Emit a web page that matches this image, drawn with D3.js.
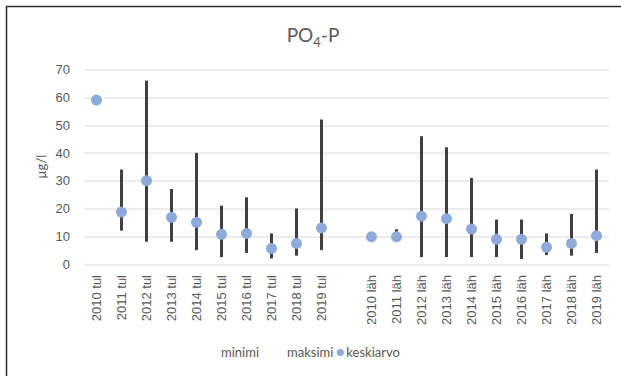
<!DOCTYPE html>
<html>
<head>
<meta charset="utf-8">
<script src="https://cdn.jsdelivr.net/npm/d3@7"></script>
<style>
  body { margin: 0; background: #fff; }
  svg { display: block; font-family: Lato, "Open Sans", sans-serif; }
  .gridline { stroke: #d9d9d9; stroke-width: 1; }
  .hilo { stroke: #404040; stroke-width: 3; }
  .lbl { fill: #595959; font-size: 13px; }
</style>
</head>
<body>
<div id="chart"></div>
<script>
// categories (empty slot separates the two seasons)
var categories = ["2010 tul","2011 tul","2012 tul","2013 tul","2014 tul","2015 tul","2016 tul","2017 tul","2018 tul","2019 tul",
                  "",
                  "2010 läh","2011 läh","2012 läh","2013 läh","2014 läh","2015 läh","2016 läh","2017 läh","2018 läh","2019 läh"];
var minimi    = [59, 12, 8, 8, 5, 2.5, 4, 2, 3, 5,   null, 10, 10, 2.5, 2.5, 2.5, 2.5, 1.8, 3.2, 3, 4];
var maksimi   = [59, 34, 66, 27, 40, 21, 24, 11, 20, 52, null, 10, 12.5, 46, 42, 31, 16, 16, 11, 18, 34];
var keskiarvo = [59, 18.7, 30, 16.8, 15, 10.7, 11, 5.6, 7.4, 13, null, 9.8, 9.8, 17.2, 16.3, 12.6, 8.9, 8.9, 6, 7.4, 10.2];
var yTicks = [0, 10, 20, 30, 40, 50, 60, 70];

var width = 621, height = 376;
var margin = {top: 69.5, left: 84, right: 12, bottom: 112};
var w = width - margin.left - margin.right;
var h = height - margin.top - margin.bottom;

var svg = d3.select("#chart").append("svg").attr("width", width).attr("height", height);

// chart frame
svg.append("path")
  .attr("d", "M6.5," + (height + 2) + "V6.5H" + (width + 2))
  .attr("fill", "none").attr("stroke", "#2b2b2b").attr("stroke-width", 1.5);

var x = d3.scaleBand().domain(d3.range(categories.length)).range([0, w]);
var y = d3.scaleLinear().domain([0, 70]).range([h, 0]);

var g = svg.append("g").attr("transform", "translate(" + margin.left + "," + margin.top + ")");

// grid lines
g.selectAll(".gridline").data(yTicks).enter().append("line")
  .attr("class", "gridline")
  .attr("x1", 0).attr("x2", w)
  .attr("y1", function(d) { return Math.round(y(d)) + 0.5; })
  .attr("y2", function(d) { return Math.round(y(d)) + 0.5; });

// y axis labels
var yAxis = d3.axisLeft(y).tickValues(yTicks).tickSize(0).tickPadding(14);
var ya = g.append("g").call(yAxis);
ya.select(".domain").remove();
ya.selectAll("text").attr("class", "lbl").attr("fill", null).style("font-size", "13px").style("font-family", null);

// x axis labels (rotated)
var xAxis = d3.axisBottom(x).tickSize(0).tickPadding(0).tickFormat(function(i) { return categories[i]; });
var xa = g.append("g").attr("transform", "translate(0," + (h + 11) + ")").call(xAxis);
xa.select(".domain").remove();
xa.selectAll("text").attr("class", "lbl").attr("fill", null).style("font-size", "13px").style("font-family", null)
  .attr("transform", "rotate(-90)")
  .attr("x", 0).attr("y", 0).attr("dx", 0).attr("dy", "0.35em")
  .attr("text-anchor", "end");

var cx = function(i) { return x(i) + x.bandwidth() / 2; };

// high-low lines
var idx = d3.range(categories.length).filter(function(i) { return minimi[i] != null && maksimi[i] != null; });
g.selectAll(".hilo").data(idx).enter().append("line")
  .attr("class", "hilo")
  .attr("x1", cx).attr("x2", cx)
  .attr("y1", function(i) { return y(minimi[i]); })
  .attr("y2", function(i) { return y(maksimi[i]); });

// mean markers
var midx = d3.range(categories.length).filter(function(i) { return keskiarvo[i] != null; });
g.selectAll(".dot").data(midx).enter().append("circle")
  .attr("class", "dot")
  .attr("cx", cx)
  .attr("cy", function(i) { return y(keskiarvo[i]); })
  .attr("r", 5.5)
  .attr("fill", "#8eaadb");

// y axis title
svg.append("text").attr("class", "lbl")
  .attr("transform", "translate(46," + (margin.top + h / 2) + ") rotate(-90)")
  .attr("text-anchor", "middle")
  .text("µg/l");

// title
var title = svg.append("text")
  .attr("x", 313).attr("y", 42)
  .attr("text-anchor", "middle")
  .attr("fill", "#595959")
  .style("font-size", "19px");
title.append("tspan").text("PO");
title.append("tspan").attr("dy", 5).style("font-size", "13px").text("4");
title.append("tspan").attr("dy", -5).text("-P");

// legend
var legend = svg.append("g").attr("transform", "translate(0,357)");
legend.append("text").attr("class", "lbl").attr("x", 221).text("minimi");
var mk = legend.append("text").attr("class", "lbl").attr("x", 287).text("maksimi");
var mkEnd = 287 + mk.node().getComputedTextLength();
legend.append("circle").attr("cx", mkEnd + 7).attr("cy", -4.5).attr("r", 3.5).attr("fill", "#8eaadb");
legend.append("text").attr("class", "lbl").attr("x", mkEnd + 13).text("keskiarvo");
</script>
</body>
</html>
